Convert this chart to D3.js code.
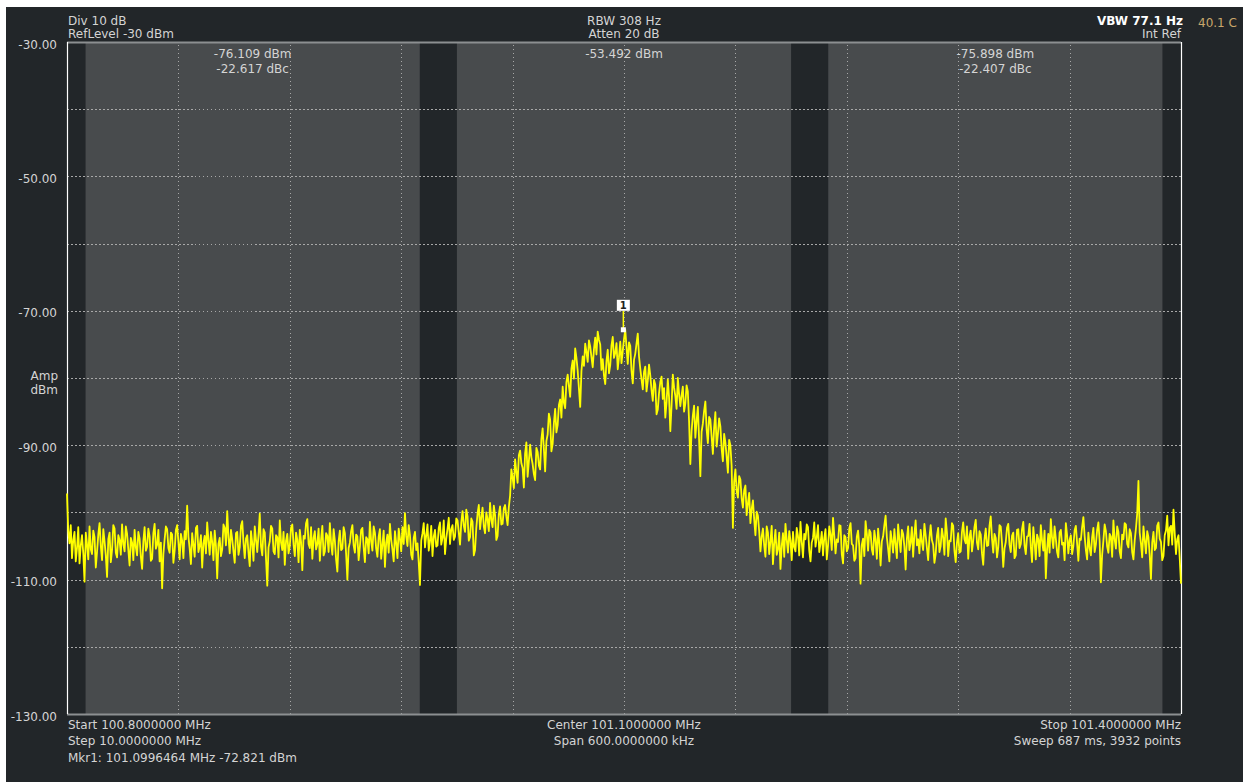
<!DOCTYPE html>
<html>
<head>
<meta charset="utf-8">
<script src="https://cdn.jsdelivr.net/npm/d3@7"></script>
<style>
  html, body { margin: 0; padding: 0; background: #ffffff; }
  svg { display: block; }
  text { font-family: "DejaVu Sans", Verdana, sans-serif; }
</style>
</head>
<body>
<svg id="chart" width="1243" height="782"></svg>
<script>
// ---------------- data ----------------
const startMHz = 100.8;
const stopMHz = 101.4;
const centerMHz = 101.1;
const refLevelDbm = -30;
const bottomLevelDbm = -130;

const yLabelTicks = [-30, -50, -70, -90, -110, -130];
const yGridTicks = [-40, -50, -60, -70, -80, -90, -100, -110, -120];
const xGridTicksMHz = [100.86, 100.92, 100.98, 101.04, 101.10, 101.16, 101.22, 101.28, 101.34];

const channelCentersMHz = [100.9, 101.1, 101.3];
const channelBwMHz = 0.18;
const channelPowerDbm = ["-76.109 dBm", "-53.492 dBm", "-75.898 dBm"];
const channelRelDbc = ["-22.617 dBc", "", "-22.407 dBc"];

const markerFreqMHz = 101.0996464;
const markerDbm = -72.821;
const markerLabelDbm = -70;

const headerLeft = ["Div 10 dB", "RefLevel -30 dBm"];
const headerCenter = ["RBW 308 Hz", "Atten 20 dB"];
const headerRight = ["VBW 77.1 Hz", "Int Ref"];
const tempLabel = "40.1 C";
const footerLeft = ["Start 100.8000000 MHz", "Step 10.0000000 MHz", "Mkr1: 101.0996464 MHz -72.821 dBm"];
const footerCenter = ["Center 101.1000000 MHz", "Span 600.0000000 kHz"];
const footerRight = ["Stop 101.4000000 MHz", "Sweep 687 ms, 3932 points"];

// trace values (dBm), evenly spaced sweep points from start to stop
const traceDbm = [
  -97.2, -102.8, -104.6, -101.9, -106.8, -104.1, -102.9, -107.3, -105.3, -102.2, -107.6, -104.9, -103.4, -106.1, -110.3, -103.0, -104.8, -107.0, -102.1, -105.5, -106.2, -102.7, -103.7, -108.2, -105.9, -103.3, -101.6, -105.0, -107.1, -102.5, -104.3, -106.4, -109.6, -104.0, -103.0, -107.4, -105.6, -101.9, -102.4, -106.0,
  -106.7, -103.4, -104.1, -106.3, -101.8, -104.7, -105.8, -102.1, -103.2, -105.6, -107.9, -103.8, -104.5, -107.1, -102.6, -105.2, -106.4, -102.9, -103.9, -106.6, -108.4, -104.3, -102.2, -105.7, -105.1, -102.4, -103.6, -107.2, -106.9, -103.1, -101.7, -105.4, -104.8, -102.6, -107.3, -104.5, -111.3, -106.2, -104.0, -102.1,
  -102.5, -105.3, -106.0, -103.0, -103.3, -107.5, -105.7, -102.6, -101.9, -104.4, -107.0, -103.2, -104.2, -106.8, -102.8, -104.0, -99.0, -103.6, -105.4, -107.7, -103.1, -104.8, -106.6, -102.3, -102.0, -105.9, -105.0, -103.4, -108.2, -104.6, -103.5, -106.1, -101.5, -104.2, -106.3, -102.9, -104.4, -107.1, -102.7, -105.0,
  -109.8, -104.7, -103.8, -106.5, -105.5, -101.8, -102.3, -104.9, -99.8, -103.7, -106.1, -102.6, -104.0, -105.8, -107.5, -103.1, -102.9, -106.3, -105.2, -102.0, -101.3, -104.5, -106.8, -103.9, -103.4, -106.0, -108.0, -102.8, -104.6, -107.2, -102.1, -104.1, -105.9, -103.3, -100.2, -105.1, -106.4, -102.5, -103.0, -106.9,
  -110.9, -105.2, -104.3, -102.0, -102.4, -105.8, -106.2, -103.4, -103.7, -106.7, -101.2, -104.5, -105.6, -102.9, -107.8, -104.2, -103.2, -106.1, -105.0, -102.3, -101.8, -104.8, -106.5, -103.0, -104.1, -107.4, -102.6, -104.4, -108.6, -103.5, -103.9, -101.6, -101.0, -104.7, -105.3, -102.2, -106.9, -103.8, -102.8, -105.5,
  -104.7, -102.4, -107.2, -104.0, -102.0, -106.4, -105.8, -103.1, -103.5, -105.9, -101.6, -104.6, -106.3, -102.5, -104.2, -107.0, -108.8, -104.3, -102.7, -105.6, -105.4, -102.2, -103.1, -106.2, -110.0, -105.3, -104.5, -102.8, -101.9, -104.9, -106.0, -103.3, -103.6, -107.1, -105.1, -102.6, -102.3, -105.2, -107.4, -103.7,
  -104.0, -106.1, -101.4, -104.3, -105.7, -102.1, -103.0, -105.4, -106.6, -103.6, -102.5, -106.9, -104.8, -102.7, -108.1, -104.5, -103.3, -106.0, -101.7, -104.1, -105.5, -107.3, -102.8, -104.6, -106.8, -102.4, -103.9, -105.8, -102.2, -104.7, -100.1, -103.5, -105.0, -101.9, -103.4, -106.3, -107.0, -103.8, -102.9, -105.6,
  -104.6, -107.4, -110.8, -104.2, -103.1, -101.6, -105.2, -103.4, -101.8, -105.7, -104.3, -102.0, -106.5, -103.6, -102.6, -105.1, -104.9, -102.3, -101.5, -104.8, -103.8, -101.2, -106.2, -103.9, -102.4, -100.8, -104.7, -102.5, -101.9, -104.1, -103.6, -100.9,
  -101.2, -103.0, -104.8, -101.5, -99.8, -102.0, -102.9, -99.6, -100.6, -104.2, -103.7, -100.9, -101.4, -106.4, -105.6, -102.3, -100.2, -98.9, -102.5, -100.7, -99.3, -102.1, -103.1, -100.0, -101.0, -102.8, -98.6, -101.1, -102.2, -99.0, -100.4, -104.1, -103.5, -100.3, -99.1, -101.8, -101.7, -99.4, -98.9, -100.6,
  -101.9, -99.2, -97.5, -93.6, -94.8, -96.4,
  -92.1, -94.0, -95.6, -91.5, -90.8, -92.7, -93.4, -96.3, -91.2, -89.6, -94.7, -92.4, -89.9, -91.8, -92.8, -94.3, -95.2, -90.4, -91.0, -93.0, -93.6, -89.1,
  -87.5, -90.6, -93.9, -89.4, -88.4, -85.3, -86.2, -90.9, -89.8, -86.7, -84.6, -88.1, -87.0, -84.0, -83.2, -85.9, -81.3, -83.7, -84.5, -80.6,
  -79.5, -81.2, -82.8, -78.6, -77.4, -80.1, -75.6, -77.0, -78.9, -81.6, -84.3, -79.0, -76.8, -78.2, -74.9, -76.1, -77.6, -74.4,
  -75.3, -76.9, -78.4, -75.7, -74.0, -76.5, -73.1, -74.3, -75.0, -78.8, -77.2, -79.6,
  -80.9, -77.5, -75.8, -79.3, -78.1, -75.2, -73.9, -77.0, -76.3, -74.8, -78.7, -76.9, -74.6, -77.8, -76.0, -74.2, -72.82, -75.4,
  -77.9, -74.7, -75.2, -78.9, -80.8, -77.3, -76.4, -74.9, -73.4, -76.8, -78.6, -80.2, -81.7, -79.1, -78.3, -82.0, -80.4, -78.0,
  -79.6, -81.8, -83.4, -80.3, -81.0, -85.4, -84.7, -82.2, -80.6, -79.8, -83.1, -81.5, -85.9, -83.6, -80.2, -82.9, -87.9, -84.1, -79.5, -81.4, -82.7, -84.6, -80.0, -82.4,
  -84.2, -82.6, -81.3, -85.0, -83.8, -81.1, -82.0, -86.5,
  -92.8, -87.9, -85.6, -84.1, -88.9, -86.4, -84.3, -89.2, -94.6, -88.0, -86.8, -84.9, -83.5, -87.6, -89.7, -85.8, -86.2, -88.7, -91.3, -87.4, -85.1, -90.2, -88.4, -86.0,
  -87.2, -90.5, -92.4, -88.3, -89.6, -91.7, -94.1, -89.2, -90.0, -93.1, -102.3, -95.4, -93.6, -96.8,
  -97.8, -94.6, -95.1, -97.9, -99.3, -96.7, -96.0, -100.4, -98.7, -97.1, -101.6, -99.5, -98.2, -101.0, -103.4, -99.9, -100.5, -102.8,
  -105.8, -103.6, -102.4, -104.9, -106.6, -102.1, -103.0, -106.2,
  -104.3, -102.0, -107.7, -104.6, -102.6, -106.3, -105.5, -103.0, -108.4, -105.0, -103.1, -106.6, -101.7, -104.1, -106.0, -102.8, -104.2, -107.1, -102.9, -105.2, -105.8, -102.3, -103.5, -106.4, -101.4, -104.4, -106.7, -103.2, -104.0, -101.8, -102.2, -105.7, -107.3, -104.5, -103.8, -101.5, -105.1, -103.7, -101.9, -105.9,
  -104.6, -102.9, -106.4, -103.8, -102.5, -107.0, -105.0, -102.1, -103.3, -105.6, -100.8, -103.5, -106.1, -104.0, -104.4, -101.9, -102.0, -106.2, -107.6, -103.4, -103.7, -105.8, -105.3, -102.4, -101.6, -104.7, -104.9, -107.2, -106.8, -103.6, -102.7, -105.1, -110.6, -104.8, -103.9, -106.5, -101.3, -103.2, -105.7, -102.6,
  -103.0, -105.5, -106.3, -102.7, -104.1, -106.9, -102.4, -104.6, -107.9, -104.3, -103.6, -101.9, -100.5, -103.7, -105.4, -107.3, -102.8, -104.2, -106.0, -102.5, -104.7, -106.8, -101.8, -104.0, -105.9, -102.6, -103.2, -105.1, -108.5, -103.9, -102.1, -105.6, -104.5, -102.2, -106.6, -103.3, -101.2, -104.9, -104.0, -106.1,
  -102.6, -104.4, -105.6, -101.7, -103.4, -105.3, -107.1, -103.8, -101.9, -104.1, -104.8, -107.5, -106.2, -103.5, -102.3, -105.9, -105.0, -102.4, -103.7, -106.3, -100.9, -103.0, -106.5, -104.2, -104.3, -101.6, -102.0, -105.7, -107.4, -104.5, -103.1, -106.0, -105.8, -102.9, -101.5, -104.0, -104.6, -102.1, -106.9, -103.6,
  -102.7, -105.8, -104.2, -102.2, -101.1, -104.5, -105.5, -102.8, -103.3, -106.1, -107.8, -104.0, -102.4, -105.0, -104.9, -102.0, -100.6, -103.9, -106.0, -103.2, -103.8, -106.7, -105.2, -101.9, -102.1, -104.6, -108.1, -105.4, -104.4, -102.3, -101.7, -104.8, -105.9, -103.5, -103.0, -106.8, -106.4, -102.6, -102.5, -105.3,
  -104.7, -102.5, -101.4, -104.9, -106.2, -103.6, -103.5, -101.7, -105.1, -107.4, -102.2, -104.4, -107.0, -103.3, -104.0, -106.5, -101.9, -104.2, -105.7, -102.7, -109.8, -105.5, -103.2, -106.0, -101.0, -103.8, -105.3, -102.1, -103.9, -105.9, -106.7, -103.0, -102.6, -104.8, -104.5, -107.1, -101.6, -103.4, -106.1, -104.1,
  -103.4, -106.2, -105.0, -102.7, -102.0, -104.6, -107.2, -103.9, -104.1, -102.2, -100.7, -103.5, -105.6, -107.0, -103.0, -105.3, -106.4, -103.7, -102.3, -105.9, -104.8, -102.6, -101.5, -104.3, -110.4, -106.3, -104.2, -101.8, -102.8, -105.1, -106.0, -103.2, -103.6, -106.6, -101.2, -104.0, -105.4, -102.1, -102.9, -105.8,
  -106.8, -103.3, -104.0, -101.6, -101.8, -104.7, -105.2, -102.5, -103.1, -105.9, -107.0, -104.2, -102.4, -100.2, -95.3, -103.0, -104.6, -106.7, -102.1, -104.1, -106.1, -102.8, -103.7, -106.4, -109.9, -104.5, -102.9, -105.6, -105.3, -102.0, -101.5, -103.9, -104.4, -107.1, -106.5, -103.4, -102.7, -100.5, -104.9, -102.3,
  -102.0, -104.8, -99.6, -103.1, -106.2, -104.0, -103.4, -106.9, -110.6
];

// ---------------- layout ----------------
const W = 1243, H = 782;
const plot = { left: 67, right: 1181, top: 42, bottom: 714 };
const colors = {
  page: "#ffffff",
  bg: "#222629",
  band: "#484b4d",
  grid: "#a8a8a8",
  text: "#d4d4d4",
  temp: "#c9a66b",
  trace: "#ffff00",
  frameTop: "#8c8f91"
};
const fontSize = 12;

const svg = d3.select("#chart");

const x = d3.scaleLinear().domain([startMHz, stopMHz]).range([plot.left, plot.right]);
const y = d3.scaleLinear().domain([bottomLevelDbm, refLevelDbm]).range([plot.bottom, plot.top]);
const idxToFreq = d3.scaleLinear().domain([0, traceDbm.length - 1]).range([startMHz, stopMHz]);

// page background
svg.append("rect").attr("width", W).attr("height", H).attr("fill", colors.page);
svg.append("rect").attr("x", 6).attr("y", 7).attr("width", W - 6).attr("height", H - 7).attr("fill", colors.bg);

// channel bands
svg.append("g").selectAll("rect").data(channelCentersMHz).join("rect")
  .attr("x", d => x(d - channelBwMHz / 2))
  .attr("y", plot.top)
  .attr("width", d => x(d + channelBwMHz / 2) - x(d - channelBwMHz / 2))
  .attr("height", plot.bottom - plot.top)
  .attr("fill", colors.band);

// grid
const gx = svg.append("g").attr("transform", `translate(0,${plot.bottom})`)
  .call(d3.axisBottom(x).tickValues(xGridTicksMHz).tickSize(-(plot.bottom - plot.top)).tickFormat(""));
const gy = svg.append("g").attr("transform", `translate(${plot.left},0)`)
  .call(d3.axisLeft(y).tickValues(yGridTicks).tickSize(-(plot.right - plot.left)).tickFormat(""));
[gx, gy].forEach(g => {
  g.select(".domain").remove();
  g.selectAll(".tick line").attr("stroke", colors.grid).attr("stroke-width", 1)
    .attr("stroke-dasharray", "1.5,2.5").attr("shape-rendering", "crispEdges");
});

// y labels
const yl = svg.append("g").attr("transform", `translate(${plot.left},0)`)
  .call(d3.axisLeft(y).tickValues(yLabelTicks).tickSize(0).tickPadding(10).tickFormat(d => d.toFixed(2)));
yl.select(".domain").remove();
yl.selectAll(".tick text").attr("fill", colors.text).attr("font-size", fontSize)
  .attr("font-family", "DejaVu Sans, Verdana, sans-serif").attr("dy", "0.5em");

// Amp dBm
svg.append("text").attr("x", 58).attr("y", 380).attr("text-anchor", "end").attr("fill", colors.text).attr("font-size", fontSize).text("Amp");
svg.append("text").attr("x", 58).attr("y", 394).attr("text-anchor", "end").attr("fill", colors.text).attr("font-size", fontSize).text("dBm");

// frame
svg.append("line").attr("x1", plot.left).attr("x2", plot.right).attr("y1", plot.top + 0.5).attr("y2", plot.top + 0.5)
  .attr("stroke", colors.frameTop).attr("stroke-width", 2);
svg.append("line").attr("x1", plot.left).attr("x2", plot.right).attr("y1", plot.bottom + 0.5).attr("y2", plot.bottom + 0.5)
  .attr("stroke", colors.frameTop).attr("stroke-width", 2);
svg.append("line").attr("x1", plot.left + 0.5).attr("x2", plot.left + 0.5).attr("y1", plot.top).attr("y2", plot.bottom)
  .attr("stroke", "#ffffff").attr("stroke-width", 1.2);
svg.append("line").attr("x1", plot.right + 0.5).attr("x2", plot.right + 0.5).attr("y1", plot.top).attr("y2", plot.bottom)
  .attr("stroke", "#ffffff").attr("stroke-width", 1.2);

// trace
const line = d3.line().x((d, i) => x(idxToFreq(i))).y(d => y(d));
svg.append("path").datum(traceDbm).attr("d", line)
  .attr("fill", "none").attr("stroke", colors.trace).attr("stroke-width", 1.8).attr("stroke-linejoin", "round");

// marker
const mx = x(markerFreqMHz), my = y(markerDbm), ly = y(markerLabelDbm);
svg.append("line").attr("x1", mx).attr("x2", mx).attr("y1", ly).attr("y2", my)
  .attr("stroke", colors.trace).attr("stroke-width", 1.5);
svg.append("rect").attr("x", mx - 2.5).attr("y", my - 2.5).attr("width", 5).attr("height", 5).attr("fill", "#ffffff");
svg.append("rect").attr("x", mx - 6.5).attr("y", ly - 11).attr("width", 13).attr("height", 11).attr("fill", "#ffffff");
svg.append("text").attr("x", mx).attr("y", ly - 1.5).attr("text-anchor", "middle").attr("fill", "#222")
  .attr("font-size", 10).attr("font-weight", "bold").text("1");

// channel readouts
const ro = svg.append("g").attr("fill", colors.text).attr("font-size", fontSize).attr("text-anchor", "middle");
ro.selectAll("text.p").data(channelCentersMHz).join("text").attr("class", "p")
  .attr("x", d => x(d)).attr("y", 58).text((d, i) => channelPowerDbm[i]);
ro.selectAll("text.r").data(channelCentersMHz).join("text").attr("class", "r")
  .attr("x", d => x(d)).attr("y", 73).text((d, i) => channelRelDbc[i]);

// header / footer
function textLines(lines, xPos, y0, anchor, offsets) {
  lines.forEach((t, i) => {
    svg.append("text").attr("x", xPos).attr("y", y0 + offsets[i])
      .attr("text-anchor", anchor).attr("fill", colors.text).attr("font-size", fontSize).text(t);
  });
}
textLines(headerLeft, 68, 25, "start", [0, 13]);
textLines(headerCenter, x(centerMHz), 25, "middle", [0, 13]);
svg.append("text").attr("x", 1183).attr("y", 25).attr("text-anchor", "end").attr("fill", "#ffffff")
  .attr("font-size", fontSize).attr("font-weight", "bold").text(headerRight[0]);
svg.append("text").attr("x", 1181).attr("y", 38).attr("text-anchor", "end").attr("fill", colors.text)
  .attr("font-size", fontSize).text(headerRight[1]);
svg.append("text").attr("x", 1198).attr("y", 27).attr("fill", colors.temp).attr("font-size", fontSize).text(tempLabel);

textLines(footerLeft, 68, 729, "start", [0, 16, 32.5]);
textLines(footerCenter, x(centerMHz), 729, "middle", [0, 16]);
textLines(footerRight, 1181, 729, "end", [0, 16]);
</script>
</body>
</html>
